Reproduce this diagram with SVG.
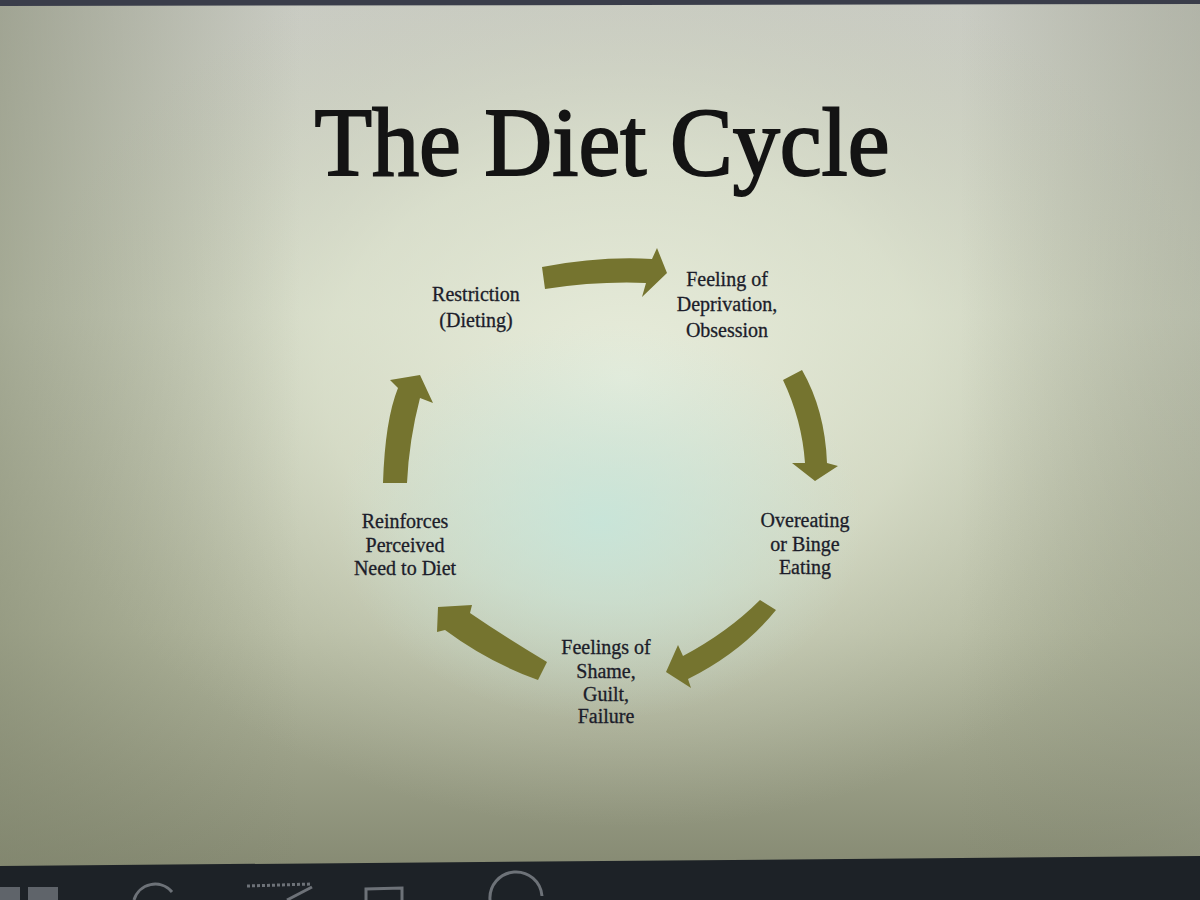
<svg xmlns="http://www.w3.org/2000/svg" width="1200" height="900" viewBox="0 0 1200 900">
<defs>
<linearGradient id="bgv" x1="0" y1="0" x2="0" y2="1">
<stop offset="0" stop-color="#c9cbc3"/>
<stop offset="0.35" stop-color="#d3d8c6"/>
<stop offset="0.7" stop-color="#b4b9a0"/>
<stop offset="1" stop-color="#80846d"/>
</linearGradient>
<radialGradient id="glow" cx="0.52" cy="0.42" r="0.5">
<stop offset="0" stop-color="#e9eedd" stop-opacity="0.95"/>
<stop offset="0.5" stop-color="#dfe5d0" stop-opacity="0.6"/>
<stop offset="1" stop-color="#c0c4b0" stop-opacity="0"/>
</radialGradient>
<radialGradient id="cyan" cx="0.5" cy="0.58" r="0.22">
<stop offset="0" stop-color="#c4e6dc" stop-opacity="0.8"/>
<stop offset="1" stop-color="#c8e4da" stop-opacity="0"/>
</radialGradient>
<linearGradient id="side" x1="0" y1="0" x2="1" y2="0">
<stop offset="0" stop-color="#7f846c" stop-opacity="0.55"/>
<stop offset="0.25" stop-color="#7f846c" stop-opacity="0"/>
<stop offset="0.8" stop-color="#7f846c" stop-opacity="0"/>
<stop offset="1" stop-color="#8e9280" stop-opacity="0.4"/>
</linearGradient>
</defs>
<style>
.arrow{fill:#75742f}
.lbl{font-family:"Liberation Serif","DejaVu Serif",serif;font-size:20px;fill:#1c1d2a;stroke:#1c1d2a;stroke-width:0.3;text-anchor:middle}
.title{font-family:"Liberation Serif","DejaVu Serif",serif;font-size:97px;fill:#141414;stroke:#141414;stroke-width:2;text-anchor:middle}
.icon{fill:none;stroke:#6d7278;stroke-width:3}
</style>
<g id="background">
<rect x="0" y="0" width="1200" height="900" fill="url(#bgv)"/>
<rect x="0" y="0" width="1200" height="900" fill="url(#glow)"/>
<rect x="0" y="0" width="1200" height="900" fill="url(#cyan)"/>
<rect x="0" y="0" width="1200" height="900" fill="url(#side)"/>
<polygon points="0,0 1200,0 1200,4 0,6" fill="#3a3d4a"/>
</g>
<g id="title">
<text class="title" x="602" y="175" textLength="575" lengthAdjust="spacingAndGlyphs">The Diet Cycle</text>
</g>
<g id="connectors">
<path class="arrow" d="M542,267 Q600,256 652,259 L657,248 L667,273 L642,297 L646,283 Q598,281 545,289 Z"/>
<path class="arrow" d="M783,380 L802,370 Q825,410 827,463 L838,466 L815,481 L792,463 L805,463 Q802,420 783,380 Z"/>
<path class="arrow" d="M760,600 L776,610 Q742,652 688,679 L691,688 L666,672 L678,645 L683,656 Q728,632 760,600 Z"/>
<path class="arrow" d="M547,662 Q505,637 470,613 L472,605 L438,607 L437,632 L445,630 Q488,662 538,680 Z"/>
<path class="arrow" d="M383,483 Q385,420 398,388 L390,380 L420,375 L433,403 L420,398 Q409,440 407,483 Z"/>
</g>
<g id="node-restriction">
<text class="lbl" x="476" y="301">Restriction</text>
<text class="lbl" x="476" y="327">(Dieting)</text>
</g>
<g id="node-deprivation">
<text class="lbl" x="727" y="286">Feeling of</text>
<text class="lbl" x="727" y="311">Deprivation,</text>
<text class="lbl" x="727" y="337">Obsession</text>
</g>
<g id="node-overeating">
<text class="lbl" x="805" y="527">Overeating</text>
<text class="lbl" x="805" y="551">or Binge</text>
<text class="lbl" x="805" y="574">Eating</text>
</g>
<g id="node-shame">
<text class="lbl" x="606" y="654">Feelings of</text>
<text class="lbl" x="606" y="678">Shame,</text>
<text class="lbl" x="606" y="701">Guilt,</text>
<text class="lbl" x="606" y="723">Failure</text>
</g>
<g id="node-reinforces">
<text class="lbl" x="405" y="528">Reinforces</text>
<text class="lbl" x="405" y="552">Perceived</text>
<text class="lbl" x="405" y="575">Need to Diet</text>
</g>
<g id="bezel">
<polygon points="0,866 1200,856 1200,900 0,900" fill="#1d2227"/>
<rect x="0" y="887" width="20" height="13" fill="#5f646a"/>
<rect x="28" y="887" width="30" height="13" fill="#5f646a"/>
<path class="icon" d="M134,900 A22,22 0 0 1 172,892"/>
<path class="icon" stroke-dasharray="3,2" d="M247,886 L312,884"/>
<path class="icon" d="M287,900 L312,887"/>
<path class="icon" d="M366,900 L366,889 L402,888 L402,900"/>
<path class="icon" d="M490,900 A26,26 0 0 1 542,896"/>
</g>
</svg>
